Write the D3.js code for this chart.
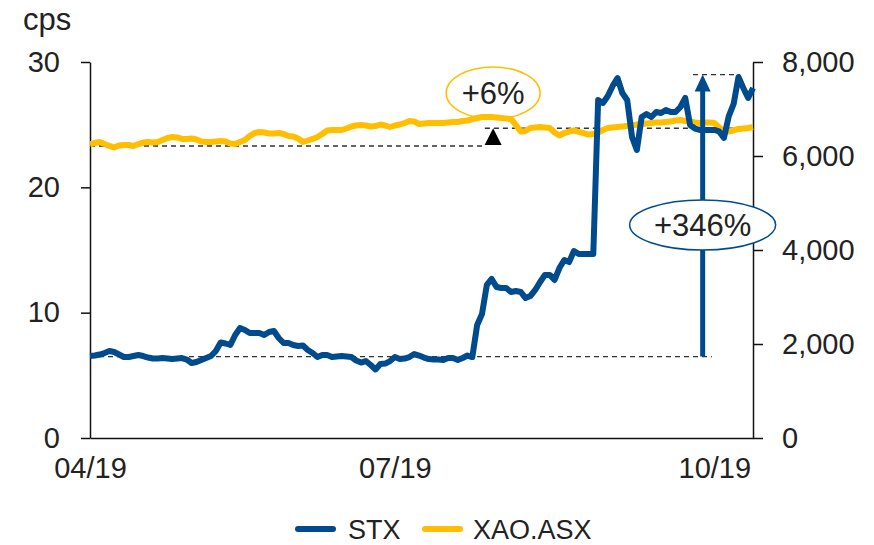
<!DOCTYPE html>
<html>
<head>
<meta charset="utf-8">
<script src="https://cdn.jsdelivr.net/npm/d3@7"></script>
<style>
  body { margin: 0; background: #fff; }
  svg text { font-family: "Liberation Sans", Arial, sans-serif; fill: #222; }
</style>
</head>
<body>
<svg id="chart" width="874" height="545"></svg>
<script>
// STX share price (cps), one value per trading day from 04/19
const stx = [
  6.54, 6.58, 6.66, 6.78, 6.94, 6.86, 6.66, 6.46, 6.46, 6.54,
  6.62, 6.54, 6.42, 6.34, 6.34, 6.38, 6.34, 6.30, 6.34, 6.38,
  6.26, 5.98, 6.06, 6.22, 6.38, 6.54, 6.94, 7.62, 7.54, 7.42,
  8.22, 8.78, 8.62, 8.38, 8.38, 8.38, 8.22, 8.46, 8.54, 7.98,
  7.58, 7.58, 7.42, 7.34, 7.38, 7.02, 6.78, 6.46, 6.62, 6.62,
  6.46, 6.50, 6.54, 6.50, 6.46, 6.18, 6.02, 6.14, 5.82, 5.47,
  5.90, 5.94, 6.14, 6.46, 6.30, 6.34, 6.46, 6.70, 6.58, 6.42,
  6.30, 6.26, 6.26, 6.22, 6.38, 6.38, 6.22, 6.38, 6.58, 6.46,
  9.02, 9.89, 12.21, 12.69, 12.05, 11.97, 11.97, 11.65, 11.73, 11.65,
  11.17, 11.33, 11.81, 12.45, 13.01, 13.01, 12.61, 13.56, 14.20, 14.04,
  14.92, 14.68, 14.68, 14.68, 14.68, 26.97, 26.73, 27.29, 28.09, 28.72,
  27.53, 26.97, 24.02, 22.98, 25.61, 25.85, 25.61, 26.01, 25.93, 26.17,
  26.01, 26.01, 26.41, 27.13, 24.97, 24.69, 24.58, 24.58, 24.58, 24.58,
  24.46, 23.94, 25.69, 26.65, 28.80, 27.93, 27.13, 27.93
];

// XAO.ASX index level, same trading days
const xao = [
  6245, 6277, 6298, 6255, 6213, 6181, 6223, 6234, 6234, 6213,
  6255, 6287, 6298, 6287, 6298, 6340, 6383, 6404, 6394, 6362,
  6362, 6372, 6351, 6309, 6298, 6298, 6309, 6319, 6309, 6266,
  6255, 6298, 6340, 6426, 6489, 6511, 6500, 6479, 6479, 6489,
  6468, 6426, 6415, 6372, 6298, 6330, 6362, 6404, 6468, 6543,
  6553, 6553, 6553, 6585, 6628, 6649, 6660, 6649, 6628, 6638,
  6670, 6649, 6617, 6649, 6670, 6702, 6745, 6734, 6681, 6692,
  6702, 6702, 6702, 6702, 6713, 6723, 6723, 6745, 6755, 6787,
  6809, 6830, 6830, 6830, 6819, 6809, 6798, 6787, 6660, 6521,
  6532, 6596, 6606, 6617, 6606, 6596, 6500, 6436, 6489, 6521,
  6543, 6511, 6489, 6457, 6468, 6500, 6553, 6596, 6606, 6617,
  6628, 6638, 6649, 6670, 6681, 6692, 6702, 6713, 6713, 6723,
  6734, 6755, 6766, 6745, 6734, 6713, 6702, 6713, 6713, 6702,
  6606, 6532, 6521, 6543, 6575, 6585, 6596, 6617
];

const tickIdx = [0, 63, 129];
const tickLabels = ["04/19", "07/19", "10/19"];
const leftTicks = [0, 10, 20, 30];
const rightTicks = [0, 2000, 4000, 6000, 8000];
const seriesNames = ["STX", "XAO.ASX"];

// annotation levels
const stxBase = 6.5, stxTop = 29.0;
const xaoBase = 6213, xaoTop = 6590;

const blue = "#004B8D";
const gold = "#FFBF00";

const svg = d3.select("#chart");
const m = { left: 90, right: 753, top: 62, bottom: 438 };

const x = d3.scaleLinear().domain([0, stx.length - 1]).range([m.left, m.right]);
const yL = d3.scaleLinear().domain([0, 30]).range([m.bottom, m.top]);
const yR = d3.scaleLinear().domain([0, 8000]).range([m.bottom, m.top]);

// unit label
svg.append("text").attr("x", 23).attr("y", 30).style("font-size", "31px").text("cps");

// axes
const styleAxis = g => {
  g.select(".domain").attr("stroke", "#111").attr("stroke-width", 1.5);
  g.selectAll(".tick line").attr("stroke", "#111").attr("stroke-width", 1.5);
  g.selectAll(".tick text").style("font-size", "29px").attr("fill", "#222")
    .style("font-family", '"Liberation Sans", Arial, sans-serif');
};

svg.append("g").attr("transform", `translate(${m.left},0)`)
  .call(d3.axisLeft(yL).tickValues(leftTicks).tickSize(9).tickSizeOuter(0).tickPadding(21))
  .call(styleAxis);

svg.append("g").attr("transform", `translate(${m.right},0)`)
  .call(d3.axisRight(yR).tickValues(rightTicks).tickSize(10).tickSizeOuter(0).tickPadding(19)
    .tickFormat(d3.format(",")))
  .call(styleAxis);

svg.append("g").attr("transform", `translate(0,${m.bottom})`)
  .call(d3.axisBottom(x).tickValues(tickIdx).tickSize(0).tickSizeOuter(0).tickPadding(19)
    .tickFormat((d, i) => tickLabels[i]))
  .call(styleAxis);

// +6% bubble sits behind the lines
svg.append("ellipse")
  .attr("cx", x(83.3)).attr("cy", 93).attr("rx", 47).attr("ry", 26)
  .attr("fill", "#fff").attr("stroke", gold).attr("stroke-width", 1.5);
svg.append("text")
  .attr("x", x(83.3)).attr("y", 93).attr("dy", "0.36em")
  .attr("text-anchor", "middle").style("font-size", "31px").text("+6%");

// dashed reference lines
const dash = (i0, i1, yv) => svg.append("line")
  .attr("x1", x(i0)).attr("x2", x(i1)).attr("y1", yv).attr("y2", yv)
  .attr("stroke", "#333").attr("stroke-width", 1.3).attr("stroke-dasharray", "5,4");

dash(0, 81.2, yR(xaoBase));
dash(81.6, 134.3, yR(xaoTop));
dash(0, 128.5, yL(stxBase));
dash(124.6, 134.3, yL(stxTop));

// series lines
const lineL = d3.line().x((d, i) => x(i)).y(d => yL(d));
const lineR = d3.line().x((d, i) => x(i)).y(d => yR(d));

svg.append("path").datum(xao).attr("d", lineR)
  .attr("fill", "none").attr("stroke", gold).attr("stroke-width", 6)
  .attr("stroke-linejoin", "round");

svg.append("path").datum(stx).attr("d", lineL)
  .attr("fill", "none").attr("stroke", blue).attr("stroke-width", 6)
  .attr("stroke-linejoin", "round");

// XAO arrow head (black)
const ax = x(83.3);
svg.append("path")
  .attr("d", `M${ax - 8.5},${yR(xaoBase) - 1}L${ax + 8.5},${yR(xaoBase) - 1}L${ax},${yR(xaoTop)}Z`)
  .attr("fill", "#000");

// STX arrow
const sx = x(126.6);
svg.append("line")
  .attr("x1", sx).attr("x2", sx).attr("y1", yL(stxBase)).attr("y2", yL(stxTop) + 15)
  .attr("stroke", blue).attr("stroke-width", 5);
svg.append("path")
  .attr("d", `M${sx - 8},${yL(stxTop) + 17}L${sx + 8},${yL(stxTop) + 17}L${sx},${yL(stxTop)}Z`)
  .attr("fill", blue);

svg.append("ellipse")
  .attr("cx", sx).attr("cy", 225).attr("rx", 73).attr("ry", 25)
  .attr("fill", "#fff").attr("stroke", blue).attr("stroke-width", 1.5);
svg.append("text")
  .attr("x", sx).attr("y", 225).attr("dy", "0.36em")
  .attr("text-anchor", "middle").style("font-size", "31px").text("+346%");

// legend
const legend = svg.append("g");
const legendItems = [
  { name: seriesNames[0], color: blue, x0: 298, tx: 348 },
  { name: seriesNames[1], color: gold, x0: 425, tx: 473 }
];
legendItems.forEach(d => {
  legend.append("line")
    .attr("x1", d.x0).attr("x2", d.x0 + 35).attr("y1", 529).attr("y2", 529)
    .attr("stroke", d.color).attr("stroke-width", 6).attr("stroke-linecap", "round");
  legend.append("text")
    .attr("x", d.tx).attr("y", 529).attr("dy", "0.36em")
    .style("font-size", "27px").text(d.name);
});
</script>
</body>
</html>
